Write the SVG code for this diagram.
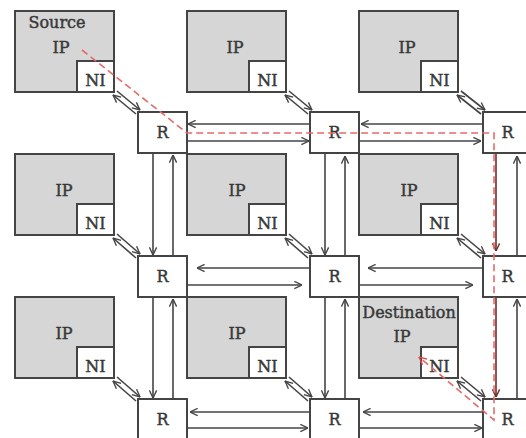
<svg xmlns="http://www.w3.org/2000/svg" width="526" height="438" viewBox="0 0 526 438">
<style>
.ip{fill:#d6d6d6;stroke:#444;stroke-width:2}
.ni{fill:#fff;stroke:#444;stroke-width:2}
.r{fill:#fff;stroke:#444;stroke-width:2}
.t{font-family:"DejaVu Serif","Liberation Serif",serif;font-size:16px;fill:#383838;stroke:#383838;stroke-width:0.45;text-anchor:middle}
.c{fill:none;stroke:#444;stroke-width:1.6}
.cr{fill:none;stroke:#6e2c2c;stroke-width:1.6}
.red{fill:none;stroke:#e56a6a;stroke-width:1.6;stroke-dasharray:7,4}
</style>
<defs>
<marker id="a" viewBox="0 0 10 10" refX="9.5" refY="5" markerWidth="9" markerHeight="9" markerUnits="userSpaceOnUse" orient="auto-start-reverse"><path d="M1,1 L9.5,5 L1,9" fill="none" stroke="#444" stroke-width="1.5"/></marker>
<marker id="ar" viewBox="0 0 10 10" refX="9.5" refY="5" markerWidth="9" markerHeight="9" markerUnits="userSpaceOnUse" orient="auto"><path d="M1,1 L9.5,5 L1,9" fill="none" stroke="#6e2c2c" stroke-width="1.5"/></marker>
<marker id="rr" viewBox="0 0 10 10" refX="9.5" refY="5" markerWidth="9" markerHeight="9" markerUnits="userSpaceOnUse" orient="auto"><path d="M1,1 L9.5,5 L1,9" fill="none" stroke="#e04848" stroke-width="1.5"/></marker>
</defs>

<g id="connectors">
<path class="c" d="M310,124 L188,124" marker-end="url(#a)"/>
<path class="c" d="M187,141 L309,141" marker-end="url(#a)"/>
<path class="c" d="M483,124 L361,124" marker-end="url(#a)"/>
<path class="c" d="M359,141 L481,141" marker-end="url(#a)"/>
<path class="c" d="M310,268 L197,268" marker-end="url(#a)"/>
<path class="c" d="M187,285 L302,285" marker-end="url(#a)"/>
<path class="c" d="M483,268 L368,268" marker-end="url(#a)"/>
<path class="c" d="M359,285 L473,285" marker-end="url(#a)"/>
<path class="c" d="M310,412 L190,412" marker-end="url(#a)"/>
<path class="c" d="M187,428 L308,428" marker-end="url(#a)"/>
<path class="c" d="M483,412 L363,412" marker-end="url(#a)"/>
<path class="c" d="M359,428 L482,428" marker-end="url(#a)"/>
<path class="c" d="M153,153 L153,255" marker-end="url(#a)"/>
<path class="c" d="M173,256 L173,155" marker-end="url(#a)"/>
<path class="c" d="M153,297 L153,398" marker-end="url(#a)"/>
<path class="c" d="M173,399 L173,299" marker-end="url(#a)"/>
<path class="c" d="M325,153 L325,255" marker-end="url(#a)"/>
<path class="c" d="M345,256 L345,156" marker-end="url(#a)"/>
<path class="c" d="M325,297 L325,398" marker-end="url(#a)"/>
<path class="c" d="M345,399 L345,299" marker-end="url(#a)"/>
<path class="cr" d="M496,153 L496,251" marker-end="url(#ar)"/>
<path class="c" d="M517,256 L517,156" marker-end="url(#a)"/>
<path class="cr" d="M496,297 L496,397" marker-end="url(#ar)"/>
<path class="c" d="M517,399 L517,299" marker-end="url(#a)"/>
<path class="c" d="M117,91 L140,110" marker-end="url(#a)"/>
<path class="c" d="M113,95 L136,114" marker-start="url(#a)"/>
<path class="c" d="M289,91 L312,110" marker-end="url(#a)"/>
<path class="c" d="M285,95 L308,114" marker-start="url(#a)"/>
<path class="c" d="M461,91 L485,110" marker-end="url(#a)"/>
<path class="c" d="M457,95 L481,114" marker-start="url(#a)"/>
<path class="c" d="M117,234 L140,254" marker-end="url(#a)"/>
<path class="c" d="M113,238 L136,258" marker-start="url(#a)"/>
<path class="c" d="M289,234 L312,254" marker-end="url(#a)"/>
<path class="c" d="M285,238 L308,258" marker-start="url(#a)"/>
<path class="c" d="M461,234 L485,254" marker-end="url(#a)"/>
<path class="c" d="M457,238 L481,258" marker-start="url(#a)"/>
<path class="c" d="M117,377 L140,397" marker-end="url(#a)"/>
<path class="c" d="M113,381 L136,401" marker-start="url(#a)"/>
<path class="c" d="M289,377 L312,397" marker-end="url(#a)"/>
<path class="c" d="M285,381 L308,401" marker-start="url(#a)"/>
<path class="c" d="M461,377 L485,397" marker-end="url(#a)"/>
<path class="c" d="M457,381 L481,401" marker-start="url(#a)"/>
</g>

<g id="ip-1-1"><rect class="ip" x="15" y="11" width="99" height="81"/><rect class="ni" x="77" y="61" width="37" height="31"/><text class="t" x="57" y="28">Source</text><text class="t" x="61" y="53">IP</text><text class="t" x="95.5" y="86">NI</text></g>
<g id="ip-1-2"><rect class="ip" x="187" y="11" width="99" height="81"/><rect class="ni" x="249" y="61" width="37" height="31"/><text class="t" x="235" y="53">IP</text><text class="t" x="267.5" y="86">NI</text></g>
<g id="ip-1-3"><rect class="ip" x="359" y="11" width="99" height="81"/><rect class="ni" x="421" y="61" width="37" height="31"/><text class="t" x="407" y="53">IP</text><text class="t" x="439.5" y="86">NI</text></g>
<g id="ip-2-1"><rect class="ip" x="15" y="154" width="99" height="81"/><rect class="ni" x="77" y="204" width="37" height="31"/><text class="t" x="64" y="196">IP</text><text class="t" x="95.5" y="229">NI</text></g>
<g id="ip-2-2"><rect class="ip" x="187" y="154" width="99" height="81"/><rect class="ni" x="249" y="204" width="37" height="31"/><text class="t" x="237" y="196">IP</text><text class="t" x="267.5" y="229">NI</text></g>
<g id="ip-2-3"><rect class="ip" x="359" y="154" width="99" height="81"/><rect class="ni" x="421" y="204" width="37" height="31"/><text class="t" x="409" y="196">IP</text><text class="t" x="439.5" y="229">NI</text></g>
<g id="ip-3-1"><rect class="ip" x="15" y="297" width="99" height="81"/><rect class="ni" x="77" y="347" width="37" height="31"/><text class="t" x="64" y="339">IP</text><text class="t" x="95.5" y="372">NI</text></g>
<g id="ip-3-2"><rect class="ip" x="187" y="297" width="99" height="81"/><rect class="ni" x="249" y="347" width="37" height="31"/><text class="t" x="237" y="339">IP</text><text class="t" x="267.5" y="372">NI</text></g>
<g id="ip-3-3"><rect class="ip" x="359" y="297" width="99" height="81"/><rect class="ni" x="421" y="347" width="37" height="31"/><text class="t" x="409" y="318">Destination</text><text class="t" x="402" y="342">IP</text><text class="t" x="439.5" y="372">NI</text></g>

<g id="r-1-1"><rect class="r" x="138" y="112" width="49" height="41"/><text class="t" x="162.5" y="138">R</text></g>
<g id="r-1-2"><rect class="r" x="310" y="112" width="49" height="41"/><text class="t" x="334.5" y="138">R</text></g>
<g id="r-1-3"><rect class="r" x="483" y="112" width="49" height="41"/><text class="t" x="507.5" y="138">R</text></g>
<g id="r-2-1"><rect class="r" x="138" y="256" width="49" height="41"/><text class="t" x="162.5" y="282">R</text></g>
<g id="r-2-2"><rect class="r" x="310" y="256" width="49" height="41"/><text class="t" x="334.5" y="282">R</text></g>
<g id="r-2-3"><rect class="r" x="483" y="256" width="49" height="41"/><text class="t" x="507.5" y="282">R</text></g>
<g id="r-3-1"><rect class="r" x="138" y="399" width="49" height="41"/><text class="t" x="162.5" y="425">R</text></g>
<g id="r-3-2"><rect class="r" x="310" y="399" width="49" height="41"/><text class="t" x="334.5" y="425">R</text></g>
<g id="r-3-3"><rect class="r" x="483" y="399" width="49" height="41"/><text class="t" x="507.5" y="425">R</text></g>

<g id="route">
<path class="red" d="M82,50 L187,133 L494,133 L494,420 L419,357" marker-end="url(#rr)"/>
</g>
</svg>
